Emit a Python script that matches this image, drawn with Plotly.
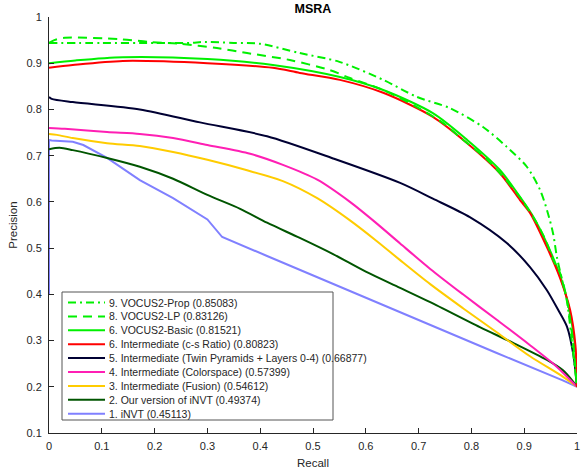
import plotly.graph_objects as go

# ---------------- data ----------------
names = [
    "9. VOCUS2-Prop (0.85083)",
    "8. VOCUS2-LP (0.83126)",
    "6. VOCUS2-Basic (0.81521)",
    "6. Intermediate (c-s Ratio) (0.80823)",
    "5. Intermediate (Twin Pyramids + Layers 0-4) (0.66877)",
    "4. Intermediate (Colorspace) (0.57399)",
    "3. Intermediate (Fusion) (0.54612)",
    "2. Our version of iNVT (0.49374)",
    "1. iNVT (0.45113)",
]

prop_recall = [0, 0.1, 0.2, 0.27, 0.29, 0.35, 0.40, 0.475, 0.55, 0.633, 0.697, 0.759, 0.822,
               0.867, 0.905, 0.93, 0.945, 0.955, 0.962, 0.972, 0.981, 0.992, 1.0]
prop_precision = [0.944, 0.944, 0.944, 0.944, 0.946, 0.944, 0.942, 0.922, 0.903, 0.864, 0.827,
                  0.803, 0.762, 0.719, 0.676, 0.626, 0.575, 0.53, 0.48, 0.43, 0.385, 0.28, 0.2]

lp_recall = [0, 0.01, 0.03, 0.134, 0.19, 0.248, 0.318, 0.375, 0.456, 0.532, 0.57, 0.633, 0.697,
             0.746, 0.778, 0.83, 0.886, 0.924, 0.943, 0.955, 0.968, 0.981, 0.992, 1.0]
lp_precision = [0.944, 0.95, 0.955, 0.952, 0.946, 0.942, 0.933, 0.922, 0.907, 0.885, 0.868, 0.842,
                0.805, 0.771, 0.74, 0.691, 0.619, 0.554, 0.511, 0.474, 0.446, 0.388, 0.3, 0.2]

basic_recall = [0, 0.05, 0.14, 0.30, 0.424, 0.551, 0.633, 0.727, 0.792, 0.854, 0.892, 0.915,
                0.945, 0.968, 0.983, 0.995, 1.0]
basic_precision = [0.90, 0.906, 0.913, 0.909, 0.896, 0.870, 0.842, 0.792, 0.734, 0.669, 0.611,
                   0.572, 0.505, 0.44, 0.38, 0.30, 0.2]

csr_recall = [0, 0.045, 0.14, 0.30, 0.424, 0.475, 0.551, 0.633, 0.727, 0.792, 0.854, 0.892,
              0.911, 0.943, 0.968, 0.987, 0.997, 1.0]
csr_precision = [0.890, 0.896, 0.905, 0.900, 0.890, 0.879, 0.864, 0.836, 0.784, 0.727, 0.662,
                 0.604, 0.576, 0.502, 0.435, 0.366, 0.29, 0.2]

twin_recall = [0, 0.005, 0.045, 0.172, 0.286, 0.413, 0.538, 0.665, 0.727, 0.797, 0.867, 0.911,
               0.943, 0.965, 0.981, 0.993, 1.0]
twin_precision = [0.827, 0.823, 0.816, 0.80, 0.772, 0.742, 0.694, 0.641, 0.607, 0.567, 0.511,
                  0.459, 0.409, 0.365, 0.33, 0.27, 0.2]

color_recall = [0, 0.03, 0.11, 0.172, 0.235, 0.30, 0.381, 0.443, 0.508, 0.57, 0.621, 0.665,
                0.722, 0.784, 0.848, 0.911, 0.962, 1.0]
color_precision = [0.76, 0.758, 0.751, 0.747, 0.738, 0.723, 0.704, 0.680, 0.648, 0.600, 0.553,
                   0.510, 0.455, 0.400, 0.345, 0.29, 0.243, 0.2]

fusion_recall = [0, 0.015, 0.045, 0.11, 0.172, 0.235, 0.30, 0.37, 0.443, 0.508, 0.57, 0.621,
                 0.665, 0.722, 0.784, 0.848, 0.911, 0.973, 1.0]
fusion_precision = [0.747, 0.745, 0.738, 0.727, 0.721, 0.708, 0.691, 0.670, 0.645, 0.608, 0.560,
                    0.515, 0.474, 0.422, 0.370, 0.318, 0.266, 0.222, 0.2]

ours_recall = [0, 0.02, 0.045, 0.11, 0.172, 0.235, 0.30, 0.362, 0.413, 0.475, 0.538, 0.60,
               0.665, 0.722, 0.816, 0.879, 0.943, 0.973, 0.99, 1.0]
ours_precision = [0.714, 0.717, 0.712, 0.695, 0.676, 0.650, 0.615, 0.585, 0.555, 0.522, 0.487,
                  0.449, 0.414, 0.383, 0.329, 0.295, 0.258, 0.236, 0.215, 0.2]

invt_recall = [0, 0, 0.005, 0.045, 0.065, 0.11, 0.172, 0.235, 0.30, 0.328, 0.413, 0.475, 0.532,
               0.614, 0.722, 0.848, 0.973, 1.0]
invt_precision = [0.40, 0.734, 0.733, 0.730, 0.723, 0.695, 0.647, 0.608, 0.562, 0.524, 0.483,
                  0.453, 0.426, 0.386, 0.334, 0.273, 0.214, 0.2]

x_ticks = [0, 0.1, 0.2, 0.3, 0.4, 0.5, 0.6, 0.7, 0.8, 0.9, 1]
y_ticks = [0.1, 0.2, 0.3, 0.4, 0.5, 0.6, 0.7, 0.8, 0.9, 1]
x_tick_labels = ["0", "0.1", "0.2", "0.3", "0.4", "0.5", "0.6", "0.7", "0.8", "0.9", "1"]
y_tick_labels = ["0.1", "0.2", "0.3", "0.4", "0.5", "0.6", "0.7", "0.8", "0.9", "1"]

# ---------------- styling ----------------
GREEN = "#00f000"
styles = [
    dict(color=GREEN, width=2, dash="8px,4px,2px,4px"),   # Prop
    dict(color=GREEN, width=2, dash="9px,6px"),           # LP
    dict(color=GREEN, width=2, dash="solid"),             # Basic
    dict(color="#ff0000", width=2, dash="solid"),         # c-s ratio
    dict(color="#000033", width=2, dash="solid"),         # twin
    dict(color="#ff1fb4", width=2, dash="solid"),         # colorspace
    dict(color="#ffcc00", width=2, dash="solid"),         # fusion
    dict(color="#005500", width=2, dash="solid"),         # ours
    dict(color="#8080ff", width=2, dash="solid"),         # iNVT
]
shapes_kind = ["spline"] * 8 + ["linear"]
series = [
    (prop_recall, prop_precision),
    (lp_recall, lp_precision),
    (basic_recall, basic_precision),
    (csr_recall, csr_precision),
    (twin_recall, twin_precision),
    (color_recall, color_precision),
    (fusion_recall, fusion_precision),
    (ours_recall, ours_precision),
    (invt_recall, invt_precision),
]

FONT = "Liberation Sans, Arial, Helvetica, sans-serif"
AX = "#262626"

fig = go.Figure()
draw_order = [8, 7, 6, 5, 4, 2, 3, 1, 0]
for i in draw_order:
    r, p = series[i]
    ln = dict(styles[i])
    ln["shape"] = shapes_kind[i]
    if shapes_kind[i] == "spline":
        ln["smoothing"] = 0.8
    fig.add_trace(go.Scatter(x=r, y=p, mode="lines", name=names[i], line=ln,
                             showlegend=False, hoverinfo="skip"))

# ---- manual legend (MATLAB-like compact box) ----
W, H = 528.0, 416.0
def px(x):
    return (x - 49) / W
def py(y):
    return (433 - y) / H

shapes = [dict(type="rect", xref="paper", yref="paper", x0=px(62), x1=px(333), y0=py(420), y1=py(292),
               line=dict(color="#555555", width=1), fillcolor="white", layer="above")]
annotations = []
for k, nm in enumerate(names):
    yy = 302.5 + 13.9 * k
    st = styles[k]
    shapes.append(dict(type="line", xref="paper", yref="paper", x0=px(68), x1=px(105), y0=py(yy), y1=py(yy),
                       line=dict(color=st["color"], width=2, dash=st["dash"]), layer="above"))
    annotations.append(dict(text=nm, xref="paper", yref="paper", x=px(107), y=py(yy), xanchor="left",
                            yanchor="middle", showarrow=False, font=dict(size=10.5, color=AX, family=FONT)))

fig.update_layout(
    width=586, height=469,
    margin=dict(l=49, r=9, t=17, b=36),
    paper_bgcolor="white", plot_bgcolor="white",
    font=dict(family=FONT, size=11, color=AX),
    title=dict(text="<b>MSRA</b>", x=0.5, xref="paper", y=1 - 9 / 469, yref="container",
               xanchor="center", yanchor="middle", font=dict(size=12.5, color="black", family=FONT)),
    shapes=shapes,
    annotations=annotations,
    showlegend=False,
)
fig.update_xaxes(range=[0, 1], tickvals=x_ticks, ticktext=x_tick_labels, showgrid=False, zeroline=False,
                 showline=True, linecolor=AX, linewidth=1, ticks="inside", ticklen=5, tickcolor=AX,
                 tickfont=dict(size=11, color=AX), ticklabelstandoff=3,
                 title=dict(text="Recall", font=dict(size=11.5, color=AX), standoff=8),
                 automargin=False)
fig.update_yaxes(range=[0.1, 1], tickvals=y_ticks, ticktext=y_tick_labels, showgrid=False, zeroline=False,
                 showline=True, linecolor=AX, linewidth=1, ticks="inside", ticklen=5, tickcolor=AX,
                 tickfont=dict(size=11, color=AX), ticklabelstandoff=4,
                 title=dict(text="Precision", font=dict(size=11.5, color=AX), standoff=6),
                 automargin=False)

fig.write_html("out.html", config={"displayModeBar": False},
               post_script="document.body.style.margin='0';document.body.style.overflow='hidden';")
